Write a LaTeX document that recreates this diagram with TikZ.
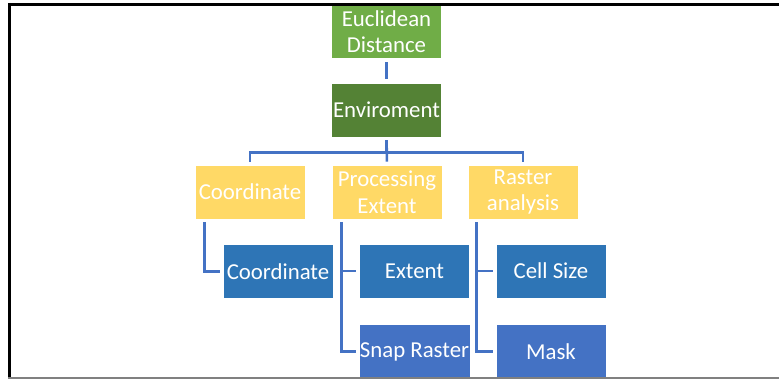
\documentclass[tikz,border=0pt]{standalone}
\usepackage{fontspec}
\setmainfont{Carlito}
\definecolor{lightgreen}{HTML}{70AD47}
\definecolor{darkgreen}{HTML}{548235}
\definecolor{softyellow}{HTML}{FFD966}
\definecolor{midblue}{HTML}{2E75B6}
\definecolor{plainblue}{HTML}{4472C4}
\definecolor{linkblue}{HTML}{4472C4}
\begin{document}
\begin{tikzpicture}[x=1pt,y=-1pt,
    box/.style={rectangle, draw=white, line width=.6pt, text=white,
      minimum width=110pt, minimum height=54pt, inner sep=1pt,
      align=center, font=\fontsize{22.8}{26.5}\selectfont},
    link/.style={draw=linkblue, line width=2.6pt, shorten <=3pt, shorten >=3pt}]

      \useasboundingbox (0,0) rectangle (779,379);

      \begin{scope}[every node/.style={box}]
        \node[fill=lightgreen, minimum height=53pt] (1) at (386.5,31.5) {Euclidean\\Distance};
        \node[fill=darkgreen] (2) at (386.5,110) {Enviroment};
        \node[fill=softyellow] (3) at (250,192) {Coordinate};
        \node[fill=softyellow] (4) at (387,192) {Processing\\Extent};
        \node[fill=softyellow] (5) at (523,192) {Raster\\analysis};
        \node[fill=midblue] (6) at (278,271.5) {Coordinate};
        \node[fill=midblue] (7) at (414.5,271) {Extent};
        \node[fill=midblue] (8) at (551,271) {Cell Size};
        \node[fill=plainblue] (9) at (414.5,351.5) {Snap Raster};
        \node[fill=plainblue] (10) at (551,351.5) {Mask};
      \end{scope}

      \draw[link, shorten <=4pt, shorten >=4pt] (1) -- (2);
      \draw[link] (2.south) -- ++(0,15) -| (3.north);
      \draw[link] (2.south) -- (4.north);
      \draw[link] (2.south) -- ++(0,15) -| (5.north);

      \draw[link] ([xshift=10pt]3.south west) |- (6.west);
      \draw[link] ([xshift=10pt]4.south west) |- (7.west);
      \draw[link] ([xshift=10pt]4.south west) |- (9.west);
      \draw[link] ([xshift=9pt]5.south west) |- (8.west);
      \draw[link] ([xshift=9pt]5.south west) |- (10.west);

      % frame of the page
      \draw[black, line width=3pt] (9.5,4.5) -- (779,4.5);
      \draw[black, line width=3pt] (9.5,3) -- (9.5,379);
      \draw[gray, line width=1.5pt] (8,377.8) -- (779,377.8);

    \end{tikzpicture}
\end{document}
